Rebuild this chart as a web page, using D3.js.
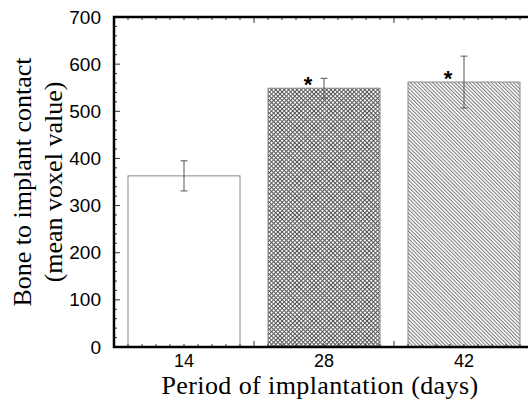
<!DOCTYPE html>
<html>
<head>
<meta charset="utf-8">
<script src="https://cdn.jsdelivr.net/npm/d3@7"></script>
<style>
  body { margin: 0; background: #fff; }
  svg { display: block; }
</style>
</head>
<body>
<div id="chart"></div>
<script>
const days = ["14", "28", "42"];
const means = [363, 549, 562];
const errs = [32, 21, 55];
const significant = [false, true, true];
const fills = ["#fff", "url(#cross)", "url(#diag)"];
const yTicks = [0, 100, 200, 300, 400, 500, 600, 700];

const width = 528, height = 400;
const margin = { left: 114, top: 17, plotRight: 534, bottom: 347 };

const svg = d3.select('#chart').append('svg')
    .attr('width', width)
    .attr('height', height);

const defs = svg.append('defs');
// crosshatch for 28 days
const cross = defs.append('pattern')
    .attr('id', 'cross')
    .attr('patternUnits', 'userSpaceOnUse')
    .attr('width', 3).attr('height', 3)
    .attr('patternTransform', 'rotate(45)');
cross.append('rect').attr('width', 3).attr('height', 3).attr('fill', '#fff');
cross.append('line').attr('x1', 0.5).attr('y1', 0).attr('x2', 0.5).attr('y2', 3)
    .attr('stroke', '#555').attr('stroke-width', 1);
cross.append('line').attr('x1', 0).attr('y1', 0.5).attr('x2', 3).attr('y2', 0.5)
    .attr('stroke', '#555').attr('stroke-width', 1);
// diagonal lines for 42 days
const diag = defs.append('pattern')
    .attr('id', 'diag')
    .attr('patternUnits', 'userSpaceOnUse')
    .attr('width', 2.6).attr('height', 4)
    .attr('patternTransform', 'rotate(-45)');
diag.append('rect').attr('width', 2.6).attr('height', 4).attr('fill', '#fff');
diag.append('line').attr('x1', 0.5).attr('y1', 0).attr('x2', 0.5).attr('y2', 4)
    .attr('stroke', '#777').attr('stroke-width', 1);

const x = d3.scaleBand()
    .domain(days)
    .range([margin.left, margin.plotRight])
    .paddingInner(0.2)
    .paddingOuter(0.1);

const y = d3.scaleLinear()
    .domain([0, 700])
    .range([margin.bottom, margin.top]);

// bars
svg.selectAll('rect.bar')
    .data(days)
  .enter().append('rect')
    .attr('class', 'bar')
    .attr('x', d => x(d))
    .attr('y', (d, i) => y(means[i]))
    .attr('width', x.bandwidth())
    .attr('height', (d, i) => y(0) - y(means[i]))
    .attr('fill', (d, i) => fills[i])
    .attr('stroke', '#888')
    .attr('stroke-width', 1);

// error bars
const eb = svg.append('g').attr('stroke', '#555').attr('stroke-width', 1);
days.forEach((d, i) => {
    const cx = x(d) + x.bandwidth() / 2;
    eb.append('line').attr('x1', cx).attr('x2', cx)
        .attr('y1', y(means[i] + errs[i])).attr('y2', y(means[i] - errs[i]));
    [means[i] + errs[i], means[i] - errs[i]].forEach(v => {
        eb.append('line').attr('x1', cx - 3.5).attr('x2', cx + 3.5)
            .attr('y1', y(v)).attr('y2', y(v));
    });
    if (significant[i]) {
        svg.append('text')
            .attr('x', cx - 16)
            .attr('y', y(means[i]) + 4)
            .attr('text-anchor', 'middle')
            .attr('font-family', 'Liberation Sans, Arial, sans-serif')
            .attr('font-weight', 'bold')
            .attr('font-size', 22)
            .text('*');
    }
});

// minor / major ticks (inward)
const ticks = svg.append('g').attr('stroke', '#333').attr('stroke-width', 1);
const step = x.step();
for (let k = 0; k <= 30; k++) {
    const xx = margin.left + k * step / 10;
    const len = k % 10 === 0 ? 6 : 3;
    ticks.append('line').attr('x1', xx).attr('x2', xx)
        .attr('y1', margin.bottom).attr('y2', margin.bottom - len);
    ticks.append('line').attr('x1', xx).attr('x2', xx)
        .attr('y1', margin.top).attr('y2', margin.top + len);
}
d3.range(0, 701, 20).forEach(v => {
    const len = v % 100 === 0 ? 6 : 3;
    ticks.append('line').attr('x1', margin.left).attr('x2', margin.left + len)
        .attr('y1', y(v)).attr('y2', y(v));
    ticks.append('line').attr('x1', margin.plotRight).attr('x2', margin.plotRight - len)
        .attr('y1', y(v)).attr('y2', y(v));
});

// frame
svg.append('rect')
    .attr('x', margin.left).attr('y', margin.top)
    .attr('width', margin.plotRight - margin.left)
    .attr('height', margin.bottom - margin.top)
    .attr('fill', 'none')
    .attr('stroke', '#000')
    .attr('stroke-width', 2.5);

// tick labels
svg.selectAll('text.ylab')
    .data(yTicks)
  .enter().append('text')
    .attr('class', 'ylab')
    .attr('x', 101)
    .attr('y', d => y(d) + 6.5)
    .attr('text-anchor', 'end')
    .attr('font-family', 'Liberation Sans, Arial, sans-serif')
    .attr('font-size', 19)
    .text(d => d);

svg.selectAll('text.xlab')
    .data(days)
  .enter().append('text')
    .attr('class', 'xlab')
    .attr('x', d => x(d) + x.bandwidth() / 2)
    .attr('y', 367)
    .attr('text-anchor', 'middle')
    .attr('font-family', 'Liberation Sans, Arial, sans-serif')
    .attr('font-size', 18)
    .text(d => d);

// axis titles
svg.append('text')
    .attr('x', 320).attr('y', 394)
    .attr('text-anchor', 'middle')
    .attr('font-family', 'Liberation Serif, Times New Roman, serif')
    .attr('font-size', 26)
    .attr('letter-spacing', 0.4)
    .text('Period of implantation (days)');

const yt = svg.append('text')
    .attr('transform', 'translate(31,182) rotate(-90)')
    .attr('text-anchor', 'middle')
    .attr('font-family', 'Liberation Serif, Times New Roman, serif')
    .attr('font-size', 26);
yt.append('tspan').attr('x', 0).attr('y', 0).text('Bone to implant contact');
yt.append('tspan').attr('x', 0).attr('y', 31).text('(mean voxel value)');
</script>
</body>
</html>
